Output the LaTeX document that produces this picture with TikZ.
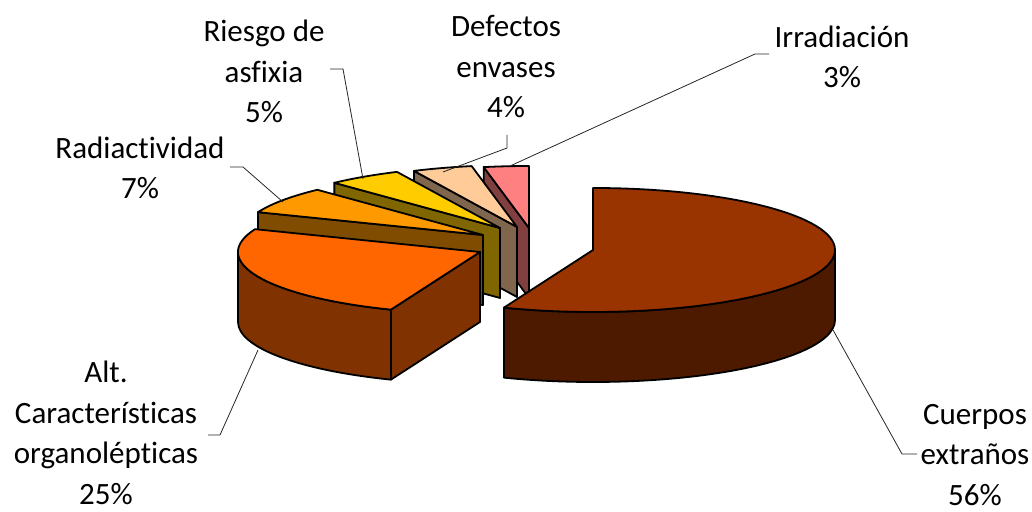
\documentclass[tikz,border=0pt]{standalone}
\usepackage{fontspec}
\setmainfont{Carlito}[Ligatures=NoCommon]
\usetikzlibrary{calc}

\definecolor{cuerposTop}{HTML}{993300}
\definecolor{cuerposSide}{HTML}{4D1A00}
\definecolor{altTop}{HTML}{FF6600}
\definecolor{altSide}{HTML}{803300}
\definecolor{radTop}{HTML}{FF9900}
\definecolor{radSide}{HTML}{804C00}
\definecolor{rieTop}{HTML}{FFCC00}
\definecolor{rieSide}{HTML}{806600}
\definecolor{defTop}{HTML}{FFCC99}
\definecolor{defSide}{HTML}{80664D}
\definecolor{irrTop}{HTML}{FF8080}
\definecolor{irrSide}{HTML}{804040}

\tikzset{
  face/.style={draw=black, line width=1.8pt, line join=round},
  etiqueta/.style={align=center, font=\fontsize{31}{40.5}\selectfont, inner sep=0pt, anchor=base},
  guia/.style={draw=black!85, line width=0.8pt}
}

\begin{document}
\begin{tikzpicture}[x=1pt, y=1pt]
  \useasboundingbox (0,0) rectangle (1032,511);

  % apex of every slice
  \coordinate (irr) at (529,283);
  \coordinate (def) at (517,284);
  \coordinate (rie) at (500,283);
  \coordinate (rad) at (483,276);
  \coordinate (alt) at (480,259);
  \coordinate (cue) at (593,261);

  % small slices, back to front
  \foreach \s/\a/\b in {irr/90/100.8, def/100.8/115.2, rie/115.2/133.2, rad/133.2/158.4} {
    \draw[face, fill=\s Side] (\s) -- ($(\s)+(\b:242 and 62)$) -- ++(0,-70)
      -- ($(\s)+(0,-70)$) -- cycle;
    \draw[face, fill=\s Top] (\s) -- ($(\s)+(\a:242 and 62)$)
      arc[start angle=\a, end angle=\b, x radius=242, y radius=62] -- cycle;
  }

  % Alt. caracteristicas organolepticas
  \draw[face, fill=altSide] ($(alt)+(180:242 and 62)$)
    arc[start angle=180, end angle=248.4, x radius=242, y radius=62] -- ++(0,-70)
    arc[start angle=248.4, end angle=180, x radius=242, y radius=62] -- cycle;
  \draw[face, fill=altSide] (alt) -- ($(alt)+(248.4:242 and 62)$) -- ++(0,-70)
    -- ($(alt)+(0,-70)$) -- cycle;
  \draw[face, fill=altTop] (alt) -- ($(alt)+(158.4:242 and 62)$)
    arc[start angle=158.4, end angle=248.4, x radius=242, y radius=62] -- cycle;

  % Cuerpos extranos
  \draw[face, fill=cuerposSide] ($(cue)+(-111.6:242 and 62)$)
    arc[start angle=-111.6, end angle=0, x radius=242, y radius=62] -- ++(0,-70)
    arc[start angle=0, end angle=-111.6, x radius=242, y radius=62] -- cycle;
  \draw[face, fill=cuerposTop] (cue) -- ($(cue)+(90:242 and 62)$)
    arc[start angle=90, end angle=-111.6, x radius=242, y radius=62] -- cycle;

  % labels (anchored at the baseline of the last line)
  \node[etiqueta] (lblRie) at (264,388) {Riesgo de\\asfixia\\5\%};
  \node[etiqueta] (lblDef) at (506,393) {Defectos\\envases\\4\%};
  \node[etiqueta] (lblIrr) at (842,423) {Irradiación\\3\%};
  \node[etiqueta] (lblRad) at (140,312) {Radiactividad\\7\%};
  \node[etiqueta] (lblAlt) at (106,7) {Alt.\\Características\\organolépticas\\25\%};
  \node[etiqueta] (lblCue) at (975,6) {Cuerpos\\extraños\\56\%};

  % leader lines
  \coordinate (rieA) at (330,442); \coordinate (rieB) at (363,332);
  \coordinate (defA) at (507,376); \coordinate (defB) at (443,339);
  \coordinate (irrA) at (769,457); \coordinate (irrB) at (510,345);
  \coordinate (radA) at (230,344); \coordinate (radB) at (283,309);
  \coordinate (altA) at (208,76);  \coordinate (altB) at (258,161);
  \coordinate (cueA) at (917,57);  \coordinate (cueB) at (833,181);
  \draw[guia] (rieA) -- ++(13,0) -- (rieB);
  \draw[guia] (defA) -- ++(0,-13) -- (defB);
  \draw[guia] (irrA) -- ++(-14,0) -- (irrB);
  \draw[guia] (radA) -- ++(13,0) -- (radB);
  \draw[guia] (altA) -- ++(12,0) -- (altB);
  \draw[guia] (cueA) -- ++(-15,0) -- (cueB);
\end{tikzpicture}
\end{document}
